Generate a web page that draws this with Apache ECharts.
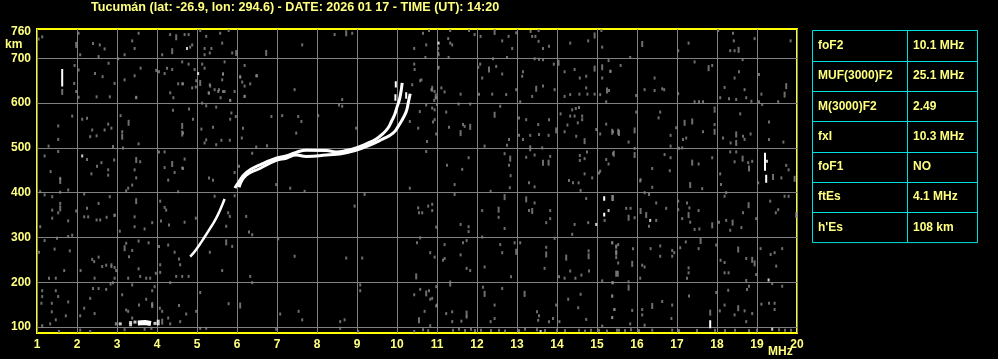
<!DOCTYPE html>
<html><head><meta charset="utf-8">
<script src="https://cdn.jsdelivr.net/npm/echarts@6/dist/echarts.min.js"></script>
<style>html,body{margin:0;padding:0;background:#000}#c{width:998px;height:359px}</style>
</head><body><div id="c"></div>
<script>
// ---- axis ticks ----
const freqTicks = [1,2,3,4,5,6,7,8,9,10,11,12,13,14,15,16,17,18,19,20];
const heightGrid = [100,200,300,400,500,600,700];
const heightLabels = [100,200,300,400,500,600,700,760];
const titleText = 'Tucumán (lat: -26.9, lon: 294.6) - DATE: 2026 01 17 - TIME (UT): 14:20';

// ---- scaled parameters table ----
const paramNames = ['foF2','MUF(3000)F2','M(3000)F2','fxI','foF1','ftEs',"h'Es"];
const paramValues = ['10.1 MHz','25.1 MHz','2.49','10.3 MHz','NO','4.1 MHz','108 km'];

// ---- F2 traces [MHz, km] ----
const lowTrace = [[4.83,257],[4.98,273],[5.19,301],[5.36,325],[5.48,343],[5.58,362],[5.69,386]];
const oTrace = [[5.95,410],[6.0,418],[6.23,445],[6.57,462],[6.98,477],[7.23,482],[7.48,490],[7.73,495],[8.23,494],[8.48,491],[8.73,494],[8.98,500],[9.23,509],[9.48,520],[9.65,532],[9.78,545],[9.86,559],[9.94,574],[10.0,591],[10.07,611],[10.13,645]];
const xTrace = [[6.05,412],[6.23,439],[6.57,454],[6.98,472],[7.23,477],[7.48,484],[7.73,481],[8.23,484],[8.73,489],[9.23,503],[9.65,520],[9.9,533],[10.03,548],[10.13,563],[10.23,581],[10.28,600],[10.33,621]];
// ---- sporadic E ----
const esTrace = [[3.52,109],[3.7,110],[3.85,108]];
const esDots = [[3.08,107],[3.34,110],[3.34,105],[3.95,108],[4.03,113],[4.03,107],[3.45,111]];
// ---- white echoes: vertical strokes [MHz, kmBottom, kmTop] ----
const whiteBars = [[1.63,637,676],[9.97,635,649],[9.96,605,620],[10.23,610,624],[15.18,382,392],[15.18,347,355],[19.2,449,489],[19.23,422,440],[17.83,97,115]];
const whiteDots = [[2.13,482],[4.75,722],[5.03,666],[11.04,734],[15.29,360],[14.98,329],[16.33,338],[19.29,205],[19.38,95],[13.59,90],[19.25,470]];

// ---- background noise (gray) ----
const noiseDots = [
[1.04,743],[1.13,748],[2.04,756],[2.08,708],[1.94,684],[2.04,674],[1.93,644],[1.98,626],[2.04,613],[2.4,733],[2.57,730],[2.69,721],[2.54,704],[2.79,689],[2.45,666],[2.64,659],[2.49,614],[2.82,614],[2.94,644],
[1.88,571],[1.53,549],[1.53,519],[2.13,564],[2.25,566],[2.38,540],[2.33,525],[2.49,527],[2.69,540],[2.78,553],[2.86,544],[1.29,504],[1.19,482],[1.53,492],[1.34,447],[1.58,432],[2.25,474],[2.36,442],[2.5,459],[2.61,467],[2.78,451],[2.78,439],[2.93,473],
[1.78,406],[1.58,401],[1.08,402],[1.19,395],[1.38,391],[1.58,376],[1.38,361],[1.38,343],[1.53,355],[1.78,337],[1.98,359],[2.18,397],[2.25,365],[2.18,346],[2.28,346],[2.54,376],[2.49,339],[2.58,339],[2.74,345],[2.82,391],[2.94,349],
[1.08,324],[1.88,305],[1.78,302],[1.5,298],[1.19,293],[1.05,267],[1.44,274],[1.82,270],[1.68,226],[1.3,209],[1.47,209],[2.09,226],[2.38,251],[2.43,246],[2.54,256],[2.63,235],[2.73,238],[2.86,235],[2.94,209],[2.44,209],[2.84,196],
[1.13,181],[1.47,181],[1.13,168],[1.53,168],[1.11,153],[1.37,153],[1.78,156],[1.37,134],[1.72,125],[2.08,125],[2.18,142],[2.4,186],[2.54,186],[2.73,184],[2.33,164],[2.44,130],[1.13,103],[1.33,107],[1.47,116],[1.55,90],[2.08,93],[2.33,90],[2.97,107],
[3.54,756],[3.38,739],[3.44,722],[3.19,708],[4.33,753],[4.69,753],[4.79,753],[5.08,762],[5.23,749],[5.58,756],[5.79,762],[5.63,734],[4.88,730],[4.83,725],[4.13,708],[5.19,722],[5.36,722],[5.32,712],[5.19,708],[5.88,712],[7.63,730],[8.44,753],[8.88,756],
[3.03,699],[3.59,678],[3.44,661],[3.19,652],[3.48,613],[3.98,673],[4.05,670],[4.25,678],[4.38,675],[4.19,666],[4.63,692],[4.79,687],[4.53,643],[4.63,643],[4.33,623],[4.41,612],[4.88,634],[4.94,675],[5.13,687],[5.19,678],[4.98,650],[5.65,665],[5.69,692],[5.63,652],[5.33,638],[5.44,630],[5.55,630],[5.69,626],[5.94,626],[5.29,623],[5.59,612],[5.83,606],
[6.19,684],[6.08,658],[6.13,647],[6.19,638],[6.33,643],[6.48,661],[6.19,615],[7.44,630],[8.63,608],[10.43,722],[10.73,730],[10.65,756],[10.8,762],[10.71,702],[10.43,687],[10.44,675],[10.58,650],[10.38,641],[10.86,630],[10.94,626],[11.03,712],[11.03,678],[10.97,612],
[3.48,612],[3.09,572],[3.13,536],[3.54,509],[2.9,503],[3.15,500],[3.58,469],[3.44,451],[3.48,433],[3.38,417],[3.28,410],[3.23,404],[3.44,346],[2.94,350],[3.44,324],[3.69,319],[3.88,333],[3.07,314],[3.23,287],[3.38,271],[3.3,257],[3.54,292],[3.79,288],
[4.4,584],[4.05,491],[4.19,491],[4.19,456],[4.44,445],[4.28,428],[4.65,454],[4.53,402],[4.08,381],[4.19,367],[4.23,361],[4.1,337],[4.3,328],[4.28,283],[4.44,267],[4.55,252],[4.05,280],
[5.65,665],[6.08,659],[6.5,661],[4.65,643],[4.97,636],[5.32,641],[5.53,626],[5.3,622],[5.65,626],[5.83,606],[6.19,615],[5.13,600],[4.8,587],[5.23,594],[4.9,564],[5.48,591],[5.86,578],[5.83,564],[5.97,570],[6.15,544],[5.4,546],[5.11,542],[4.65,533],[5.61,517],[5.48,507],[5.19,511],[5.23,518],[5.82,517],[6.12,522],[6.48,502],[6.75,505],[6.86,570],[7.13,572],[7.53,570],[7.61,559],[7.48,533],[8.03,572],[8.63,593],[8.55,596],[8.98,544],[10.53,544],[10.73,596],[10.61,652],
[4.69,475],[4.63,455],[5.3,433],[5.4,428],[5.94,445],[6.05,459],[6.38,488],[6.98,418],[7.33,410],[7.69,403],[5.44,392],[5.78,355],[5.82,347],[6.23,347],[5.94,393],[4.97,343],[4.69,334],[5.32,267],[5.73,325],[5.88,280],[6.3,312],[6.38,306],[7.03,297],[7.44,258],[8.94,370],[9.19,396],[8.73,254],[9.13,254],[10.32,410],[10.53,366],[10.55,355],[10.63,355],[10.5,288],[10.58,299],[10.78,370],[10.73,492],[10.75,514],[10.57,581],[10.32,559],
[2.86,239],[2.94,233],[2.98,226],[3.54,230],[3.28,209],[3.58,213],[3.73,209],[3.83,209],[3.97,220],[4.08,239],[4.08,222],[4.58,239],[4.48,213],[4.63,213],[4.79,213],[4.33,199],[2.9,199],[3.38,194],[3.13,172],[3.88,181],[3.94,190],[3.73,162],[3.55,149],[3.88,149],[4.07,142],[3.23,138],[3.28,135],[4.13,135],[4.55,148],[4.73,129],[4.98,135],[3.38,120],[4.28,120],[4.58,112],[4.33,107],[2.98,107],[3.19,94],[3.69,95],[3.86,97],
[5.08,177],[5.08,97],[5.23,97],[5.63,226],[5.79,152],[6.33,213],[6.38,199],[7.08,129],[7.54,135],[7.63,116],[6.98,95],[8.58,112],[8.69,116],[8.58,97],[9.03,90],[9.08,194],[9.08,181],[10.43,172],[10.58,184],[10.8,181],[10.83,162],[10.69,135],[10.83,103],[10.65,94],[10.43,90],[10.78,92],[10.98,190],[10.98,147],
[11.33,762],[11.8,762],[12.98,757],[13.34,760],[13.54,762],[13.38,749],[13.46,749],[11.94,753],[12.09,749],[12.79,749],[12.63,739],[12.88,722],[12.75,702],[13.54,738],[13.65,722],[13.8,727],[14.33,734],[14.78,739],[15.11,762],[15.13,725],[11.28,744],[11.33,734],[11.38,730],[11.03,722],[11.04,708],[11.29,702],
[12.08,687],[12.03,680],[12.48,682],[12.4,699],[12.63,665],[12.13,656],[13.15,670],[13.13,660],[13.65,697],[13.92,687],[13.44,699],[13.55,698],[14.19,670],[14.44,675],[14.57,656],[14.73,660],[15.29,695],[15.34,671],[15.13,656],[11.04,680],
[11.11,634],[11.19,625],[10.93,606],[11.0,597],[11.59,620],[12.05,620],[12.38,620],[12.98,630],[13.08,603],[12.73,619],[13.38,615],[13.65,638],[13.94,630],[14.19,615],[14.33,619],[14.56,620],[14.73,634],[14.76,620],[14.94,620],[15.08,619],[15.3,628],[15.23,603],[11.54,598],[11.83,598],[12.58,593],
[11.23,580],[10.94,585],[10.88,589],[10.94,563],[10.9,558],[11.65,552],[11.69,548],[11.3,546],[10.98,531],[13.05,567],[13.23,563],[13.8,563],[13.53,552],[14.09,576],[14.38,585],[14.47,588],[14.55,590],[14.33,571],[14.44,571],[14.63,571],[14.63,563],[14.52,556],[14.26,551],[14.19,536],[14.48,526],[15.23,553],[15.08,531],[15.4,536],[14.98,541],
[12.8,519],[13.05,528],[13.15,519],[13.33,528],[13.55,530],[13.79,528],[12.19,504],[12.75,506],[13.63,500],[12.69,487],[12.8,461],[12.84,438],[12.82,411],[11.79,478],[11.25,461],[11.63,452],[11.44,418],[13.23,479],[13.44,484],[13.83,481],[13.3,422],[13.44,413],[14.4,422],[14.3,427],[14.54,422],[14.69,442],[14.88,433],[14.69,476],[14.57,483],[14.57,472],[14.75,491],[15.23,474],[15.29,464],[15.4,487],[15.05,444],[15.08,448],[14.59,405],
[10.88,374],[10.88,360],[10.98,323],[11.44,396],[12.34,403],[12.13,360],[12.54,345],[13.44,377],[13.3,360],[13.83,360],[13.83,342],[13.73,333],[12.69,320],[11.59,329],[11.79,324],[11.79,313],[12.13,301],[14.73,387],[14.78,333],[15.19,338],[14.44,329],[14.38,307],[13.94,298],
[11.19,284],[11.65,288],[11.74,293],[10.83,266],[10.94,256],[11.15,249],[11.19,253],[11.59,261],[12.58,284],[12.63,266],[12.94,288],[13.08,288],[13.73,278],[14.79,270],[15.38,288],[15.48,281],[15.48,266],[15.48,255],[15.53,243],[11.74,231],[11.83,226],[12.19,234],[12.85,212],[13.69,231],[14.05,212],[14.19,209],[14.33,225],[14.46,209],[14.61,216],[14.8,225],[15.13,203],[15.4,199],
[11.0,149],[10.88,164],[11.23,130],[11.38,134],[11.74,122],[11.61,113],[11.38,112],[12.15,189],[12.44,149],[12.44,119],[12.34,112],[12.63,186],[13.5,134],[13.55,125],[13.53,115],[13.8,112],[13.9,119],[13.98,149],[14.06,112],[14.28,162],[14.59,173],[14.53,143],[14.73,117],[15.38,169],[15.44,139],[15.38,121],[15.13,102],
[11.4,93],[11.55,95],[11.7,92],[11.85,95],[11.95,92],[12.1,93],[12.35,92],[12.55,93],[12.7,91],[13.05,92],[13.2,95],[13.5,94],[13.7,92],[14.0,93],[14.2,92],[14.55,93],[14.7,91],[14.85,93],[15.05,93],[15.25,91],[15.5,93],
[17.29,734],[17.03,717],[18.03,762],[18.4,756],[18.42,739],[18.33,717],[18.44,717],[18.94,744],[19.84,739],[15.83,702],[15.59,684],[15.33,671],[16.44,656],[16.19,630],[16.44,628],[16.63,632],[16.68,630],[15.98,617],[17.44,692],[17.88,684],[17.03,621],[17.44,603],[17.55,603],[17.65,603],[18.08,612],[18.19,635],[18.3,610],[18.48,608],[18.55,670],[18.44,656],[18.69,630],[18.73,612],[18.64,697],[18.86,604],[19.05,664],[19.05,603],[19.13,597],[19.11,620],[19.53,603],
[15.98,580],[16.58,580],[16.54,567],[17.94,589],[17.94,582],[17.94,552],[18.58,576],[19.3,558],[16.98,545],[17.65,536],[17.23,522],[17.15,519],[16.84,528],[16.84,504],[18.15,522],[18.34,511],[18.65,526],[18.84,531],[18.69,519],[19.3,519],[19.66,513],[15.79,513],[15.94,499],[16.69,485],[16.84,478],[16.38,454],[16.82,449],[17.54,464],[17.05,499],[17.13,500],[17.88,478],[18.08,442],[18.1,418],[17.63,409],[16.38,412],[16.09,429],[16.08,426],
[18.33,491],[18.48,491],[18.44,469],[18.78,467],[18.88,470],[19.03,422],[19.61,433],[19.73,461],[19.79,451],[15.73,365],[15.84,365],[15.94,344],[16.19,400],[16.3,396],[16.48,377],[16.48,338],[16.3,325],[16.73,365],[17.03,381],[17.03,362],[17.25,377],[17.31,366],[17.13,342],[17.33,334],[17.54,360],[17.44,318],[17.56,319],[18.05,334],[18.23,338],[18.33,316],[18.61,322],[18.65,355],[18.98,342],[19.33,381],[19.47,355],[19.53,362],[19.69,392],[19.79,392],[18.19,392],[18.23,400],
[15.38,288],[15.48,278],[15.53,284],[15.9,275],[15.38,199],[15.79,201],[16.13,238],[16.19,234],[16.08,209],[16.34,275],[16.58,281],[16.58,258],[16.88,271],[16.93,266],[16.88,258],[17.08,277],[17.22,290],[17.29,232],[17.29,221],[17.25,209],[17.54,275],[17.98,283],[18.09,249],[18.19,244],[18.19,221],[18.29,221],[18.28,182],[18.73,253],[18.98,217],[18.73,204],[18.8,191],[19.09,275],[19.34,262],[19.44,266],[19.48,236],[19.63,275],[19.38,197],[19.63,191],
[15.38,169],[15.38,121],[15.43,139],[15.83,107],[15.88,137],[16.13,139],[16.13,127],[16.19,104],[16.63,157],[16.88,149],[16.86,119],[17.3,169],[17.98,177],[18.07,136],[18.19,149],[18.44,127],[18.69,136],[18.88,130],[19.11,151],[19.3,153],[19.44,153],[19.44,139],[18.75,184],[18.73,112],
[15.55,93],[15.7,92],[15.85,94],[16.05,92],[16.38,93],[16.88,93],[17.05,92],[17.5,92],[17.95,93],[18.2,92],[18.45,93],[18.8,92],[19.0,93],[19.55,94],[19.7,93],[19.85,93]
];
const noiseStreaks = [
[1.98,730],[1.63,625],[1.58,426],[1.58,365],[4.48,747],[4.38,716],[6.73,712],[8.73,756],[5.98,712],[3.13,525],[3.29,556],[3.48,473],[3.48,381],[3.19,276],[4.63,549],[4.63,532],[4.38,464],[5.08,645],[5.73,289],[3.88,149],[4.13,112],[6.08,148],[10.48,213],[10.73,175],[10.55,115],
[12.44,759],[14.94,751],[12.3,675],[14.04,690],[14.94,677],[15.13,680],[10.88,632],[10.97,615],[13.48,632],[15.25,628],[11.83,547],[11.59,533],[12.44,574],[13.98,539],[14.69,515],[15.55,533],[13.33,499],[12.83,476],[13.65,467],[13.79,467],[12.54,362],[12.69,390],[13.23,385],[13.38,359],[15.4,388],[12.98,268],[13.73,262],[14.23,255],[14.79,258],[15.48,219],[11.33,197],[11.74,130],[12.19,174],[13.19,174],
[16.13,732],[18.54,719],[17.79,678],[19.69,619],[19.73,638],[17.19,556],[17.38,559],[17.94,536],[18.48,530],[18.48,511],[15.38,536],[15.53,536],[15.94,539],[15.94,484],[15.42,487],[17.38,467],[17.33,417],[18.64,476],[18.8,454],[19.4,435],[19.94,431],[15.38,388],[15.79,344],[16.09,359],[16.23,350],[17.29,350],[17.88,327],[18.39,333],[18.79,372],[19.98,350],[15.48,266],[15.88,241],[15.52,219],[15.79,188],[17.59,292],[18.53,273],[18.88,250],[18.94,242],[16.38,147],[18.53,142],[17.83,132]
];

const YEL = '#ffff80';
const FONT = 'Liberation Sans';
const chart = echarts.init(document.getElementById('c'), null, {renderer:'canvas'});

// build white bar segments as line data with gaps
const barData = [];
whiteBars.forEach(b => { barData.push([b[0], b[1]]); barData.push([b[0], b[2]]); barData.push('-'); });

// table graphics
const tX = 812.5, tY = 30.5, tW = 165, rowH = 30.3, colX = 907.5;
const tableEls = [
  {type:'rect', shape:{x:tX, y:tY, width:tW, height:rowH*paramNames.length}, style:{fill:'none', stroke:'#00e0e0', lineWidth:1}},
  {type:'line', shape:{x1:colX, y1:tY, x2:colX, y2:tY+rowH*paramNames.length}, style:{stroke:'#00e0e0', lineWidth:1}}
];
paramNames.forEach((n,i) => {
  if (i>0) tableEls.push({type:'line', shape:{x1:tX, y1:Math.round(tY+rowH*i)+0.5, x2:tX+tW, y2:Math.round(tY+rowH*i)+0.5}, style:{stroke:'#00e0e0', lineWidth:1}});
  const cy = tY + rowH*(i+0.5);
  tableEls.push({type:'text', x:818, y:cy, style:{text:n, fill:YEL, font:'bold 12px "'+FONT+'"', textVerticalAlign:'middle'}});
  tableEls.push({type:'text', x:913, y:cy, style:{text:paramValues[i], fill:YEL, font:'bold 12px "'+FONT+'"', textVerticalAlign:'middle'}});
});

chart.setOption({
  backgroundColor:'#000',
  animation:false,
  title:{text:titleText, left:91, top:1, padding:0, textStyle:{color:YEL, fontSize:12.6, fontWeight:'bold', fontFamily:FONT}},
  grid:{left:37, top:29, width:760, height:304, show:true, borderColor:'#ffff00', borderWidth:2, backgroundColor:'#000'},
  xAxis:{type:'value', min:freqTicks[0], max:freqTicks[freqTicks.length-1], interval:1,
    axisLine:{show:false}, axisTick:{show:false},
    splitLine:{show:true, lineStyle:{color:'#808080', width:1}},
    axisLabel:{color:YEL, fontSize:12, fontWeight:'bold', fontFamily:FONT, margin:6,
      customValues:freqTicks}},
  yAxis:{type:'value', min:86.6, max:765.5,
    axisLine:{show:false}, axisTick:{show:false, customValues:heightGrid},
    splitLine:{show:true, lineStyle:{color:'#808080', width:1}},
    axisLabel:{color:YEL, fontSize:12, fontWeight:'bold', fontFamily:FONT, margin:6, customValues:heightLabels}},
  graphic:[
    {type:'text', x:5, y:45, style:{text:'km', fill:YEL, font:'bold 12px "'+FONT+'"', textVerticalAlign:'middle'}},
    {type:'text', x:768, y:352, style:{text:'MHz', fill:YEL, font:'bold 12px "'+FONT+'"', textVerticalAlign:'middle'}},
    ...tableEls
  ],
  series:[
    {type:'scatter', data:noiseDots, symbol:'rect', symbolSize:[2,3], itemStyle:{color:'#8a8a8a'}, silent:true},
    {type:'scatter', data:noiseStreaks, symbol:'rect', symbolSize:[2,6], itemStyle:{color:'#8a8a8a'}, silent:true},
    {type:'line', data:lowTrace, smooth:true, showSymbol:false, lineStyle:{color:'#fff', width:2.5}, silent:true},
    {type:'line', data:xTrace, smooth:true, showSymbol:false, lineStyle:{color:'#fff', width:3}, silent:true},
    {type:'line', data:oTrace, smooth:true, showSymbol:false, lineStyle:{color:'#fff', width:3}, silent:true},
    {type:'line', data:esTrace, showSymbol:false, lineStyle:{color:'#fff', width:5}, silent:true},
    {type:'scatter', data:esDots, symbol:'rect', symbolSize:[3,3], itemStyle:{color:'#fff'}, silent:true},
    {type:'line', data:barData, connectNulls:false, showSymbol:false, lineStyle:{color:'#fff', width:2}, silent:true},
    {type:'scatter', data:whiteDots, symbol:'rect', symbolSize:[2,3], itemStyle:{color:'#fff'}, silent:true}
  ]
});
</script></body></html>
